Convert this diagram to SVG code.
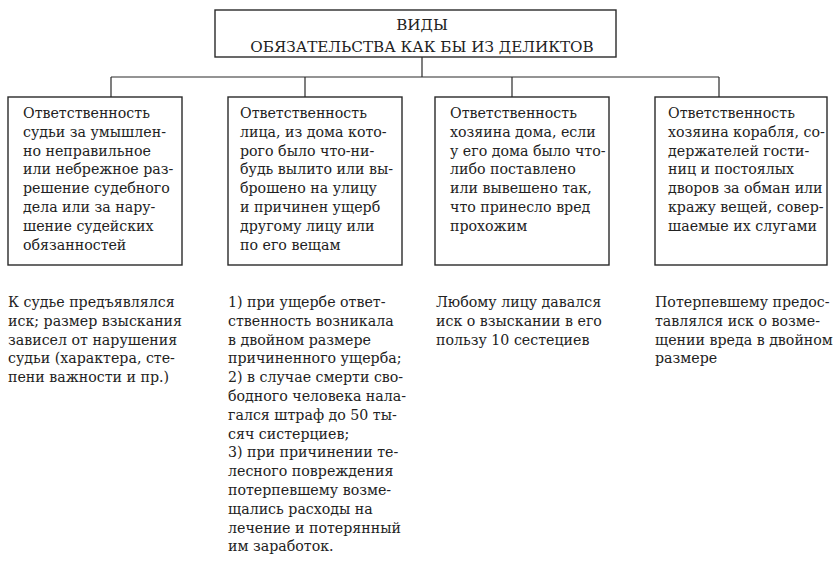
<svg xmlns="http://www.w3.org/2000/svg" width="838" height="568" viewBox="0 0 838 568">
<style>
.box{fill:#fff;stroke:#2a2a2a;stroke-width:1.4}
.ln{fill:none;stroke:#2a2a2a;stroke-width:1.2}
.t{font-family:'DejaVu Serif','Liberation Serif',serif;font-size:14.2px;fill:#222}
.c{text-anchor:middle;font-size:15.2px}
</style>
<rect width="838" height="568" fill="#fff"/>
<g id="connectors">
<path class="ln" d="M422 57V77M111 77H719M111 77V97M305 77V97M512 77V97M719 77V97"/>
</g>
<g id="title" class="t">
<rect class="box" x="215" y="10" width="401" height="47"/>
<text class="c" x="422" y="30">ВИДЫ</text>
<text class="c" x="422" y="52">ОБЯЗАТЕЛЬСТВА КАК БЫ ИЗ ДЕЛИКТОВ</text>
</g>
<g id="node1" class="t">
<rect class="box" x="8" y="97" width="174" height="168"/>
<text x="23" y="118">
<tspan x="23" dy="0">Ответственность</tspan>
<tspan x="23" dy="18.8">судьи за умышлен-</tspan>
<tspan x="23" dy="18.8">но неправильное</tspan>
<tspan x="23" dy="18.8">или небрежное раз-</tspan>
<tspan x="23" dy="18.8">решение судебного</tspan>
<tspan x="23" dy="18.8">дела или за нару-</tspan>
<tspan x="23" dy="18.8">шение судейских</tspan>
<tspan x="23" dy="18.8">обязанностей</tspan>
</text>
</g>
<g id="node2" class="t">
<rect class="box" x="228" y="97" width="174" height="168"/>
<text x="240" y="118">
<tspan x="240" dy="0">Ответственность</tspan>
<tspan x="240" dy="18.8">лица, из дома кото-</tspan>
<tspan x="240" dy="18.8">рого было что-ни-</tspan>
<tspan x="240" dy="18.8">будь вылито или вы-</tspan>
<tspan x="240" dy="18.8">брошено на улицу</tspan>
<tspan x="240" dy="18.8">и причинен ущерб</tspan>
<tspan x="240" dy="18.8">другому лицу или</tspan>
<tspan x="240" dy="18.8">по его вещам</tspan>
</text>
</g>
<g id="node3" class="t">
<rect class="box" x="435" y="97" width="174" height="168"/>
<text x="450" y="118">
<tspan x="450" dy="0">Ответственность</tspan>
<tspan x="450" dy="18.8">хозяина дома, если</tspan>
<tspan x="450" dy="18.8">у его дома было что-</tspan>
<tspan x="450" dy="18.8">либо поставлено</tspan>
<tspan x="450" dy="18.8">или вывешено так,</tspan>
<tspan x="450" dy="18.8">что принесло вред</tspan>
<tspan x="450" dy="18.8">прохожим</tspan>
</text>
</g>
<g id="node4" class="t">
<rect class="box" x="655" y="97" width="172" height="168"/>
<text x="668" y="118">
<tspan x="668" dy="0">Ответственность</tspan>
<tspan x="668" dy="18.8">хозяина корабля, со-</tspan>
<tspan x="668" dy="18.8">держателей гости-</tspan>
<tspan x="668" dy="18.8">ниц и постоялых</tspan>
<tspan x="668" dy="18.8">дворов за обман или</tspan>
<tspan x="668" dy="18.8">кражу вещей, совер-</tspan>
<tspan x="668" dy="18.8">шаемые их слугами</tspan>
</text>
</g>
<g id="note1" class="t">
<text x="8" y="307">
<tspan x="8" dy="0">К судье предъявлялся</tspan>
<tspan x="8" dy="18.8">иск; размер взыскания</tspan>
<tspan x="8" dy="18.8">зависел от нарушения</tspan>
<tspan x="8" dy="18.8">судьи (характера, сте-</tspan>
<tspan x="8" dy="18.8">пени важности и пр.)</tspan>
</text>
</g>
<g id="note2" class="t">
<text x="228" y="307">
<tspan x="228" dy="0">1) при ущербе ответ-</tspan>
<tspan x="228" dy="18.8">ственность возникала</tspan>
<tspan x="228" dy="18.8">в двойном размере</tspan>
<tspan x="228" dy="18.8">причиненного ущерба;</tspan>
<tspan x="228" dy="18.8">2) в случае смерти сво-</tspan>
<tspan x="228" dy="18.8">бодного человека нала-</tspan>
<tspan x="228" dy="18.8">гался штраф до 50 ты-</tspan>
<tspan x="228" dy="18.8">сяч систерциев;</tspan>
<tspan x="228" dy="18.8">3) при причинении те-</tspan>
<tspan x="228" dy="18.8">лесного повреждения</tspan>
<tspan x="228" dy="18.8">потерпевшему возме-</tspan>
<tspan x="228" dy="18.8">щались расходы на</tspan>
<tspan x="228" dy="18.8">лечение и потерянный</tspan>
<tspan x="228" dy="18.8">им заработок.</tspan>
</text>
</g>
<g id="note3" class="t">
<text x="436" y="307">
<tspan x="436" dy="0">Любому лицу давался</tspan>
<tspan x="436" dy="18.8">иск о взыскании в его</tspan>
<tspan x="436" dy="18.8">пользу 10 сестециев</tspan>
</text>
</g>
<g id="note4" class="t">
<text x="655" y="307">
<tspan x="655" dy="0">Потерпевшему предос-</tspan>
<tspan x="655" dy="18.8">тавлялся иск о возме-</tspan>
<tspan x="655" dy="18.8">щении вреда в двойном</tspan>
<tspan x="655" dy="18.8">размере</tspan>
</text>
</g>
</svg>
